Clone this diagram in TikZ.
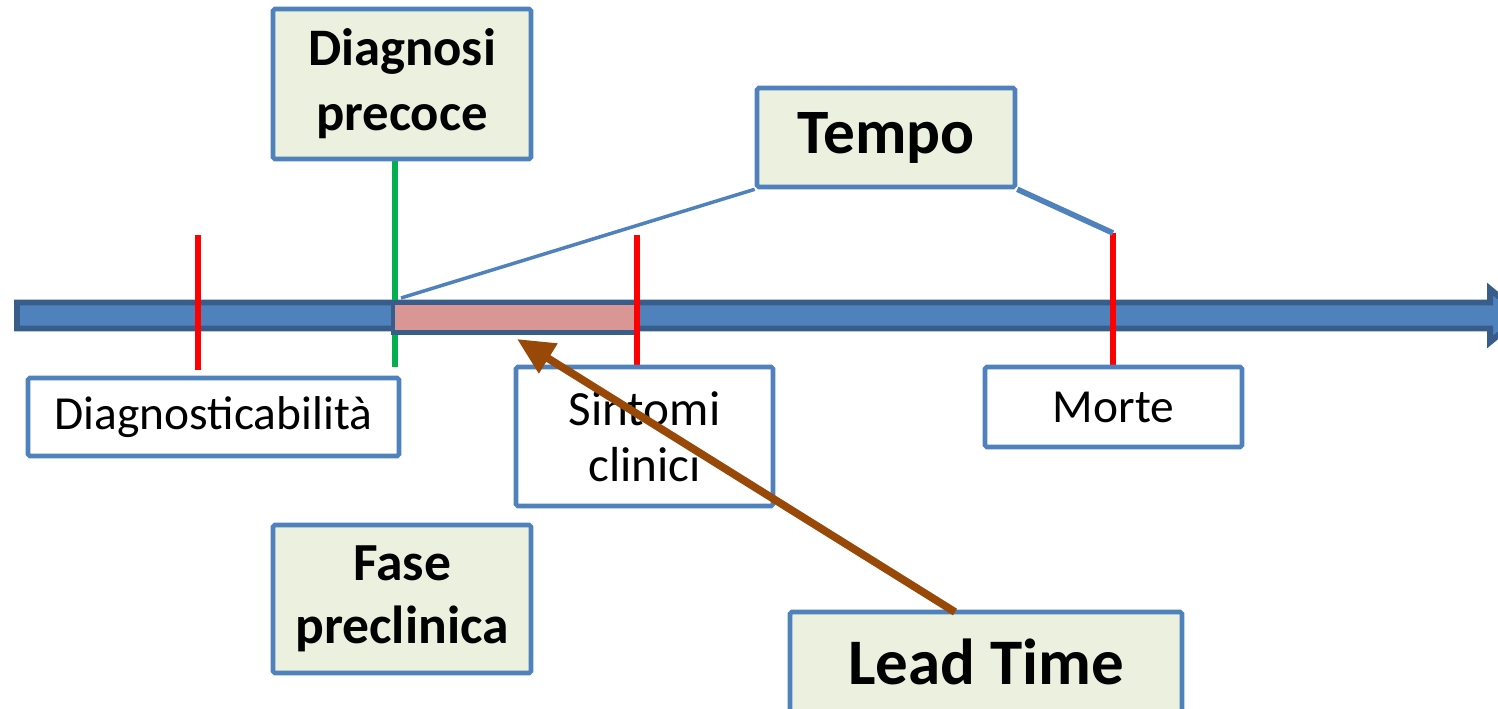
\documentclass[tikz,border=0pt]{standalone}
\usepackage{fontspec}
\setmainfont{Carlito}
\usetikzlibrary{arrows.meta}
\definecolor{bord}{HTML}{4F81BD}
\definecolor{dkblue}{HTML}{385D8A}
\definecolor{lgreen}{HTML}{EBF1DE}
\definecolor{pinkf}{HTML}{D99694}
\definecolor{brownar}{HTML}{984807}
\definecolor{tickred}{HTML}{FF0000}
\definecolor{tickgreen}{HTML}{00B050}
\tikzset{
  box/.style={draw=bord, line width=2.6pt, rounded corners=1pt, inner sep=0pt, align=center},
  greenbox/.style={box, fill=lgreen, font=\bfseries},
  whitebox/.style={box, fill=white},
  tick/.style={line width=3.3pt},
}
\begin{document}
\begin{tikzpicture}[x=0.02cm,y=-0.02cm]
\useasboundingbox (0,0) rectangle (1498,708);
\clip (0,0) rectangle (1498,708);
% main time axis arrow
\filldraw[fill=bord, draw=dkblue, line width=3.4pt, line join=miter]
  (17,302.5) -- (1490,302.5) -- (1490,289) -- (1522,315.5) -- (1490,342) -- (1490,328.5) -- (17,328.5) -- cycle;
% green tick (diagnosi precoce)
\draw[tick, tickgreen] (395,158) -- (395,367);
% lead-time segment
\node[draw=dkblue, fill=pinkf, line width=2.8pt, inner sep=0pt,
      minimum width=244*0.02cm, minimum height=30*0.02cm] (lead) at (515,317.5) {};
% red ticks
\draw[tick, tickred] (198,235) -- (198,370);
\draw[tick, tickred] (637,235) -- (637,370);
\coordinate (mt) at (1113,233);
\draw[tick, tickred] (mt) -- (1113,370);
% boxes
\node[greenbox, minimum width=258*0.02cm, minimum height=150*0.02cm,
      font=\fontsize{30}{37}\selectfont\bfseries] (dp) at (402,84) {Diagnosi\\precoce};
\node[greenbox, minimum width=258*0.02cm, minimum height=99*0.02cm,
      font=\fontsize{36}{42}\selectfont\bfseries] (tempo) at (886,137.5) {Tempo};
\node[whitebox, minimum width=371*0.02cm, minimum height=78*0.02cm,
      font=\fontsize{27}{32}\selectfont] (diag) at (213.5,417) {Diagnosticabilità};
\node[whitebox, minimum width=257*0.02cm, minimum height=139*0.02cm,
      font=\fontsize{28}{32}\selectfont] (sint) at (644.5,436.5) {Sintomi\\clinici};
\node[whitebox, minimum width=257*0.02cm, minimum height=80*0.02cm,
      font=\fontsize{27}{32}\selectfont] (morte) at (1113.5,407) {Morte};
\node[greenbox, minimum width=258*0.02cm, minimum height=148*0.02cm,
      font=\fontsize{30.5}{36}\selectfont\bfseries] (fase) at (402,599) {Fase\\preclinica};
\node[greenbox, minimum width=392*0.02cm, minimum height=100*0.02cm,
      font=\fontsize{37}{42}\selectfont\bfseries] (lt) at (986,662) {Lead Time};
% Tempo connectors
\coordinate (gs) at (401,298);
\draw[bord, line width=2pt] (gs) -- (tempo.south west);
\draw[bord, line width=3.2pt] (tempo.south east) -- (mt);
% lead time arrow
\coordinate (ltstart) at (955,612);
\coordinate (ltend) at (517,339);
\draw[brownar, line width=4.4pt, -{Triangle[length=21pt,width=19pt]}] (ltstart) -- (ltend);
\end{tikzpicture}
\end{document}
